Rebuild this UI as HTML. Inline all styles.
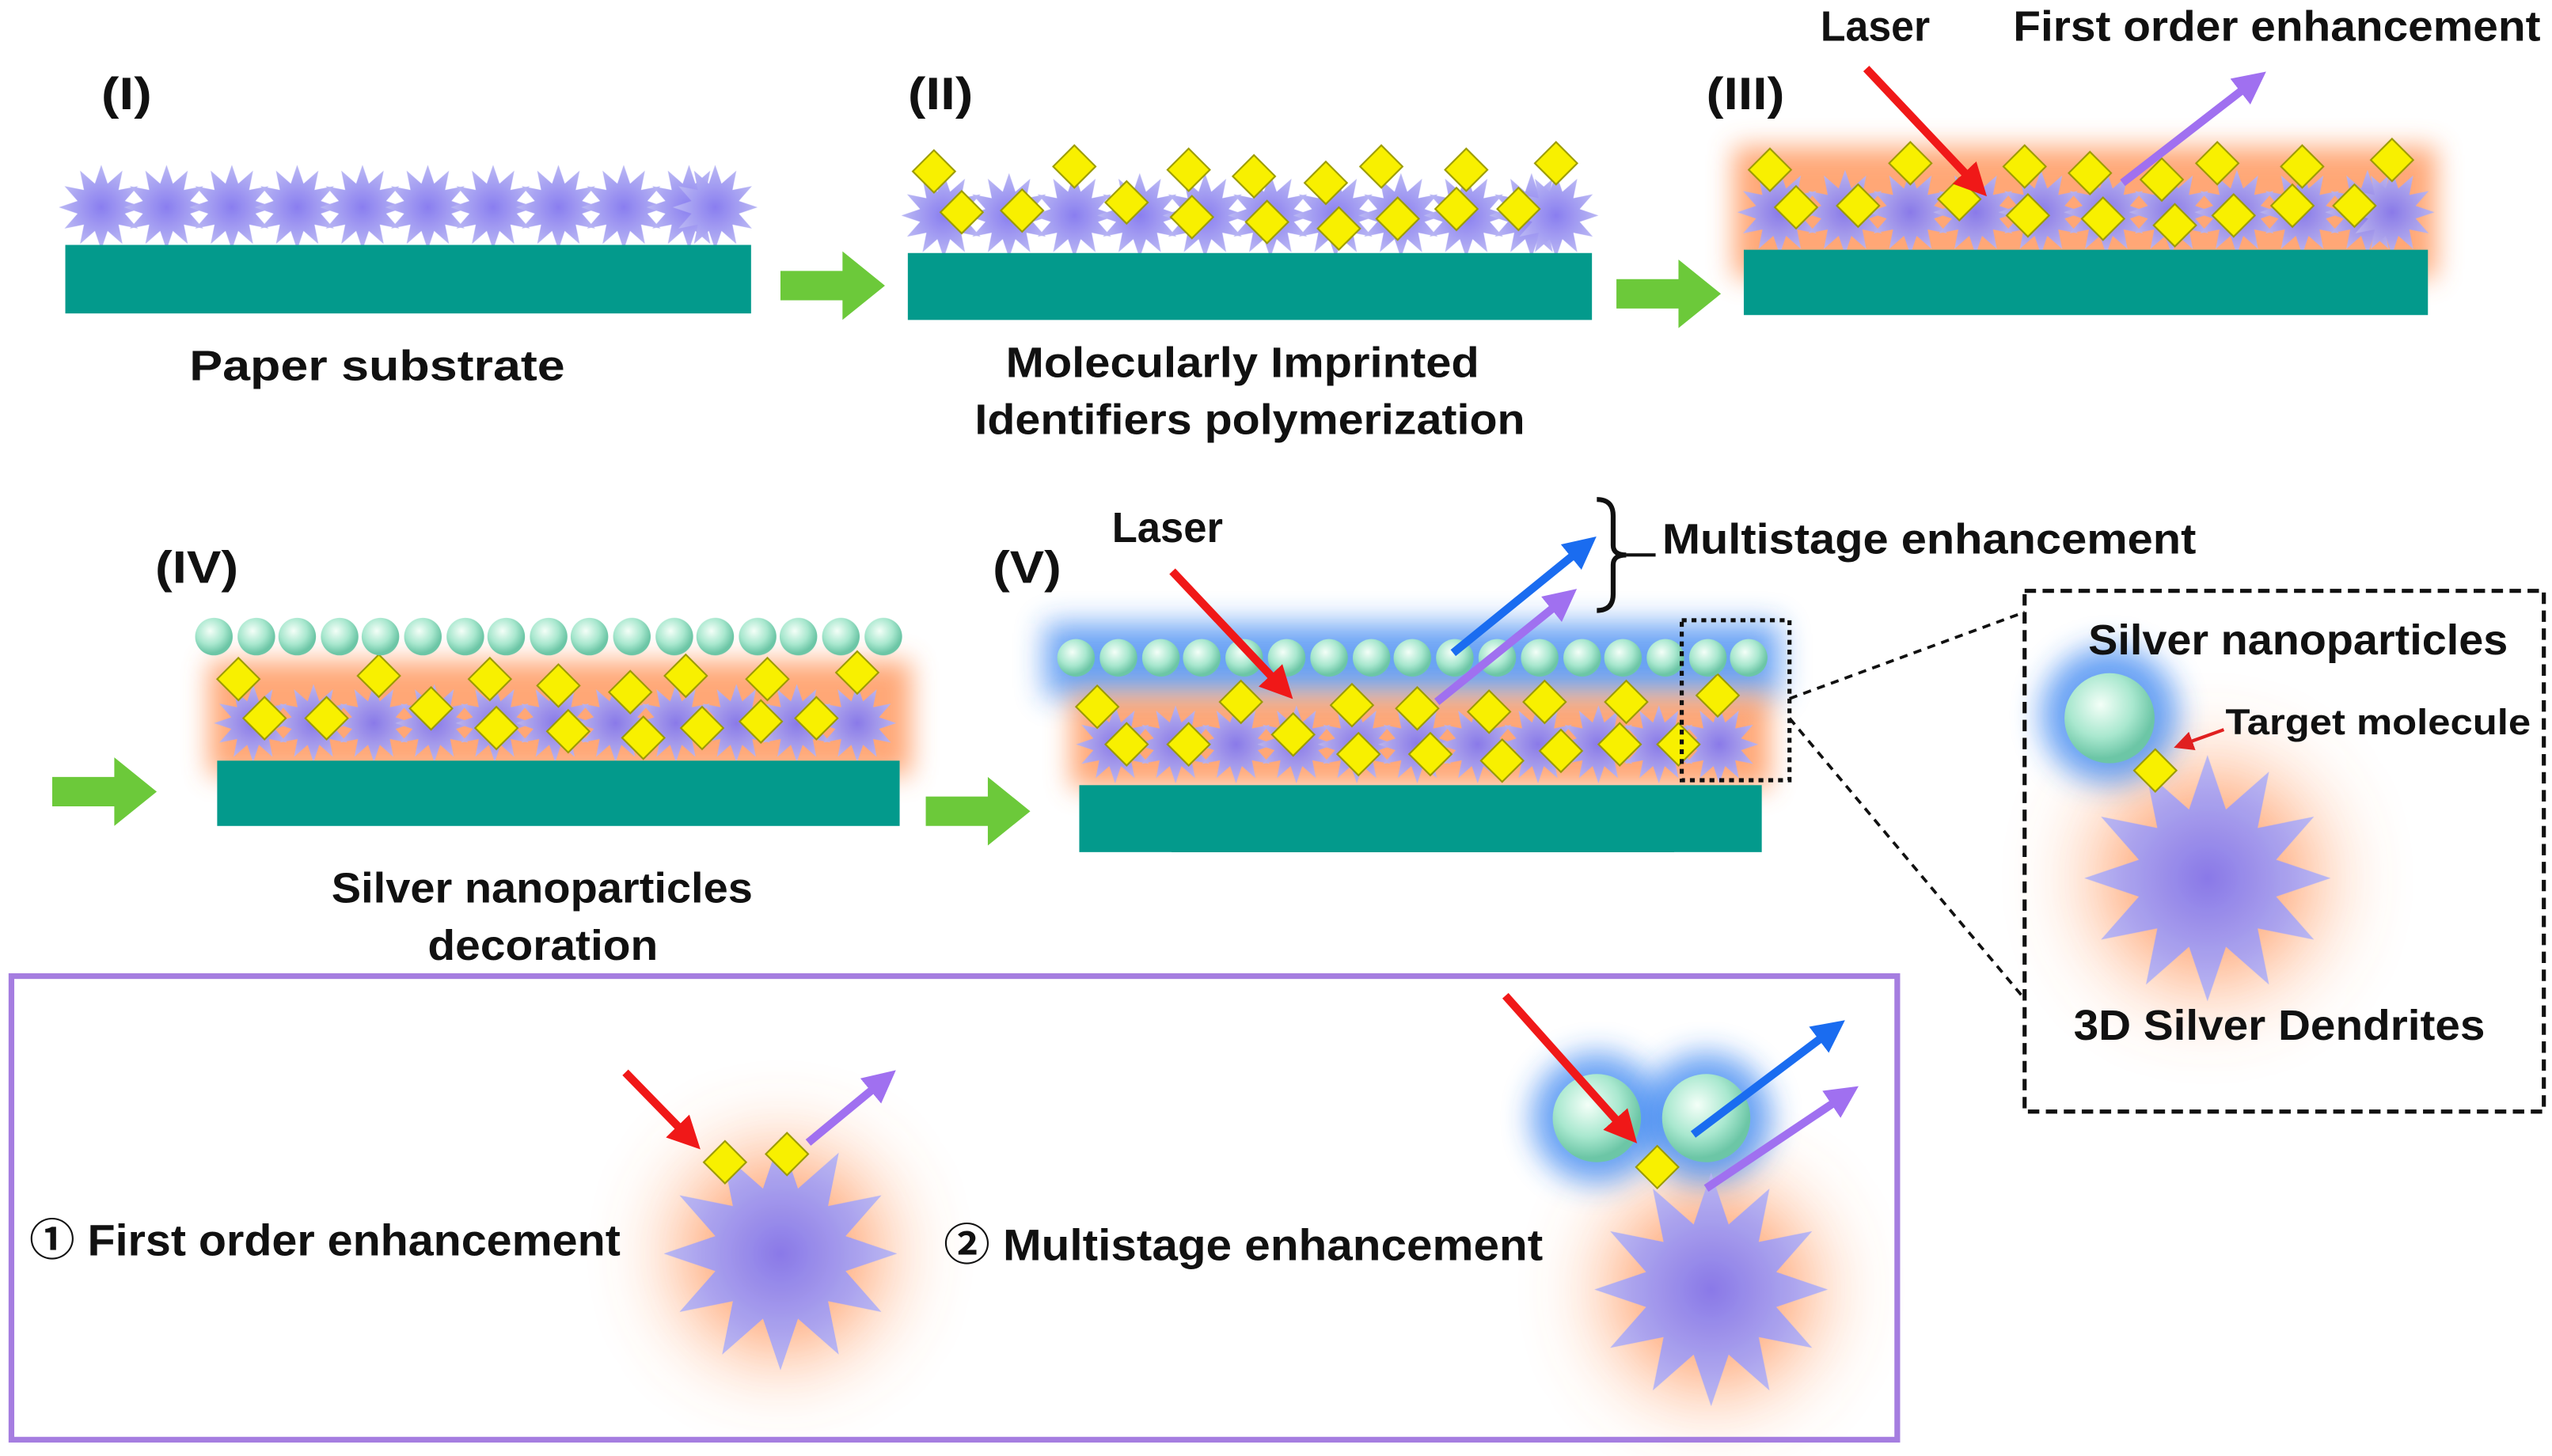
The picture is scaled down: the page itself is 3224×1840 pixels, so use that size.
<!DOCTYPE html>
<html><head><meta charset="utf-8">
<style>
html,body{margin:0;padding:0;background:#fff;}
svg{display:block;}
text{font-family:"Liberation Sans","Noto Sans CJK SC",sans-serif;font-weight:bold;fill:#111;}
</style></head>
<body>
<svg width="3224" height="1840" viewBox="0 0 1563 892" preserveAspectRatio="none" xmlns="http://www.w3.org/2000/svg" xmlns:xlink="http://www.w3.org/1999/xlink">
<defs>
<radialGradient id="gs" cx="50%" cy="50%" r="50%">
<stop offset="0" stop-color="#8478f0"/><stop offset="1" stop-color="#b8b6f4"/></radialGradient>
<radialGradient id="gb" cx="40%" cy="35%" r="60%">
<stop offset="0" stop-color="#f4fff8"/><stop offset="0.6" stop-color="#a9e8cf"/><stop offset="1" stop-color="#6cc6a6"/></radialGradient>
<filter id="fo" x="-50%" y="-50%" width="200%" height="200%"><feGaussianBlur stdDeviation="8"/></filter>
<filter id="fb" x="-50%" y="-50%" width="200%" height="200%"><feGaussianBlur stdDeviation="9"/></filter>
<marker id="mr" markerWidth="4" markerHeight="4" refX="2" refY="2" orient="auto" markerUnits="strokeWidth"><path d="M0,0 L4,2 L0,4 z" fill="#f01818"/></marker>
<marker id="mp" markerWidth="4" markerHeight="4" refX="2" refY="2" orient="auto" markerUnits="strokeWidth"><path d="M0,0 L4,2 L0,4 z" fill="#a070f0"/></marker>
<marker id="mb" markerWidth="4" markerHeight="4" refX="2" refY="2" orient="auto" markerUnits="strokeWidth"><path d="M0,0 L4,2 L0,4 z" fill="#1a6cf0"/></marker>
<marker id="mk" markerWidth="6" markerHeight="6" refX="3" refY="3" orient="auto" markerUnits="strokeWidth"><path d="M0,0 L6,3 L0,6 z" fill="#e02020"/></marker>
<path id="st" fill="url(#gs)" d="M26,0L14.5,3.9L22.5,13L10.6,10.6L13,22.5L3.9,14.5L0,26L-3.9,14.5L-13,22.5L-10.6,10.6L-22.5,13L-14.5,3.9L-26,0L-14.5,-3.9L-22.5,-13L-10.6,-10.6L-13,-22.5L-3.9,-14.5L0,-26L3.9,-14.5L13,-22.5L10.6,-10.6L22.5,-13L14.5,-3.9Z"/>
<path id="so" fill="#ff8a4a" opacity="0.85" filter="url(#fo)" d="M26,0L14.5,3.9L22.5,13L10.6,10.6L13,22.5L3.9,14.5L0,26L-3.9,14.5L-13,22.5L-10.6,10.6L-22.5,13L-14.5,3.9L-26,0L-14.5,-3.9L-22.5,-13L-10.6,-10.6L-13,-22.5L-3.9,-14.5L0,-26L3.9,-14.5L13,-22.5L10.6,-10.6L22.5,-13L14.5,-3.9Z"/>
<path id="dm" d="M0,-13L13,0L0,13L-13,0Z" fill="#f8f000" stroke="#9a9a00" stroke-width="1"/>
<circle id="sp" r="11.5" fill="url(#gb)"/>
</defs>

<!-- glows -->
<rect x="1062" y="90" width="430" height="80" fill="#ff8a4a" opacity="0.75" filter="url(#fo)"/>
<rect x="128" y="405" width="430" height="70" fill="#ff8a4a" opacity="0.75" filter="url(#fo)"/>
<rect x="640" y="382" width="450" height="45" fill="#2a7cf0" opacity="0.7" filter="url(#fb)"/>
<rect x="656" y="425" width="428" height="58" fill="#ff8a4a" opacity="0.75" filter="url(#fo)"/>
<use href="#so" transform="translate(1352,538) scale(3.3)"/>
<use href="#so" transform="translate(478,768) scale(3.1)"/>
<use href="#so" transform="translate(1048,790) scale(3.1)"/>
<circle cx="1292" cy="438" r="42" fill="#2a7cf0" opacity="0.7" filter="url(#fb)"/>
<circle cx="978" cy="685" r="40" fill="#2a7cf0" opacity="0.7" filter="url(#fb)"/>
<circle cx="1045" cy="685" r="40" fill="#2a7cf0" opacity="0.7" filter="url(#fb)"/>

<!-- star rows -->
<g opacity="0.95">
<use href="#st" x="62" y="127"/><use href="#st" x="102" y="127"/><use href="#st" x="142" y="127"/><use href="#st" x="182" y="127"/><use href="#st" x="222" y="127"/><use href="#st" x="262" y="127"/><use href="#st" x="302" y="127"/><use href="#st" x="342" y="127"/><use href="#st" x="382" y="127"/><use href="#st" x="422" y="127"/><use href="#st" x="438" y="127"/>
<use href="#st" x="578" y="132"/><use href="#st" x="618" y="132"/><use href="#st" x="658" y="132"/><use href="#st" x="698" y="132"/><use href="#st" x="738" y="132"/><use href="#st" x="778" y="132"/><use href="#st" x="818" y="132"/><use href="#st" x="858" y="132"/><use href="#st" x="898" y="132"/><use href="#st" x="938" y="132"/><use href="#st" x="953" y="132"/>
<use href="#st" x="1090" y="130"/><use href="#st" x="1130" y="130"/><use href="#st" x="1170" y="130"/><use href="#st" x="1210" y="130"/><use href="#st" x="1250" y="130"/><use href="#st" x="1290" y="130"/><use href="#st" x="1330" y="130"/><use href="#st" x="1370" y="130"/><use href="#st" x="1410" y="130"/><use href="#st" x="1450" y="130"/><use href="#st" x="1465" y="130"/>
<use href="#st" transform="translate(155,443) scale(0.92)"/><use href="#st" transform="translate(192,443) scale(0.92)"/><use href="#st" transform="translate(229,443) scale(0.92)"/><use href="#st" transform="translate(266,443) scale(0.92)"/><use href="#st" transform="translate(303,443) scale(0.92)"/><use href="#st" transform="translate(340,443) scale(0.92)"/><use href="#st" transform="translate(377,443) scale(0.92)"/><use href="#st" transform="translate(414,443) scale(0.92)"/><use href="#st" transform="translate(451,443) scale(0.92)"/><use href="#st" transform="translate(488,443) scale(0.92)"/><use href="#st" transform="translate(525,443) scale(0.92)"/>
<use href="#st" transform="translate(683,456) scale(0.92)"/><use href="#st" transform="translate(720,456) scale(0.92)"/><use href="#st" transform="translate(757,456) scale(0.92)"/><use href="#st" transform="translate(794,456) scale(0.92)"/><use href="#st" transform="translate(831,456) scale(0.92)"/><use href="#st" transform="translate(868,456) scale(0.92)"/><use href="#st" transform="translate(905,456) scale(0.92)"/><use href="#st" transform="translate(942,456) scale(0.92)"/><use href="#st" transform="translate(979,456) scale(0.92)"/><use href="#st" transform="translate(1016,456) scale(0.92)"/><use href="#st" transform="translate(1053,456) scale(0.92)"/>
<use href="#st" transform="translate(1352,538) scale(2.9)"/>
<use href="#st" transform="translate(478,768) scale(2.75)"/>
<use href="#st" transform="translate(1048,790) scale(2.75)"/>
</g>

<!-- bars -->
<rect x="40" y="150" width="420" height="42" fill="#039a8c"/>
<rect x="556" y="155" width="419" height="41" fill="#039a8c"/>
<rect x="1068" y="153" width="419" height="40" fill="#039a8c"/>
<rect x="133" y="466" width="418" height="40" fill="#039a8c"/>
<rect x="661" y="481" width="418" height="41" fill="#039a8c"/>

<!-- diamonds -->
<g>
<use href="#dm" x="572" y="105"/><use href="#dm" x="589" y="130"/><use href="#dm" x="626" y="129"/><use href="#dm" x="658" y="102"/><use href="#dm" x="690" y="124"/><use href="#dm" x="728" y="104"/><use href="#dm" x="730" y="133"/><use href="#dm" x="768" y="108"/><use href="#dm" x="776" y="136"/><use href="#dm" x="812" y="112"/><use href="#dm" x="820" y="140"/><use href="#dm" x="846" y="102"/><use href="#dm" x="856" y="134"/><use href="#dm" x="892" y="128"/><use href="#dm" x="898" y="104"/><use href="#dm" x="930" y="128"/><use href="#dm" x="953" y="100"/>
<use href="#dm" x="1084" y="104"/><use href="#dm" x="1100" y="127"/><use href="#dm" x="1138" y="126"/><use href="#dm" x="1170" y="100"/><use href="#dm" x="1200" y="122"/><use href="#dm" x="1240" y="102"/><use href="#dm" x="1242" y="132"/><use href="#dm" x="1280" y="106"/><use href="#dm" x="1288" y="134"/><use href="#dm" x="1324" y="110"/><use href="#dm" x="1332" y="138"/><use href="#dm" x="1358" y="100"/><use href="#dm" x="1368" y="132"/><use href="#dm" x="1404" y="126"/><use href="#dm" x="1410" y="102"/><use href="#dm" x="1442" y="126"/><use href="#dm" x="1465" y="98"/>
<use href="#dm" x="146" y="416"/><use href="#dm" x="162" y="440"/><use href="#dm" x="200" y="440"/><use href="#dm" x="232" y="414"/><use href="#dm" x="264" y="434"/><use href="#dm" x="300" y="416"/><use href="#dm" x="304" y="446"/><use href="#dm" x="342" y="420"/><use href="#dm" x="348" y="448"/><use href="#dm" x="386" y="424"/><use href="#dm" x="394" y="452"/><use href="#dm" x="420" y="414"/><use href="#dm" x="430" y="446"/><use href="#dm" x="466" y="442"/><use href="#dm" x="470" y="416"/><use href="#dm" x="500" y="440"/><use href="#dm" x="525" y="412"/>
<use href="#dm" x="672" y="433"/><use href="#dm" x="690" y="456"/><use href="#dm" x="728" y="456"/><use href="#dm" x="760" y="430"/><use href="#dm" x="792" y="450"/><use href="#dm" x="828" y="432"/><use href="#dm" x="832" y="462"/><use href="#dm" x="868" y="434"/><use href="#dm" x="876" y="462"/><use href="#dm" x="912" y="436"/><use href="#dm" x="920" y="466"/><use href="#dm" x="946" y="430"/><use href="#dm" x="956" y="460"/><use href="#dm" x="992" y="456"/><use href="#dm" x="996" y="430"/><use href="#dm" x="1028" y="456"/><use href="#dm" x="1052" y="426"/>
<use href="#dm" x="1320" y="472"/><use href="#dm" x="444" y="712"/><use href="#dm" x="482" y="707"/>
</g>

<!-- spheres -->
<g>
<use href="#sp" x="131" y="390"/><use href="#sp" x="157" y="390"/><use href="#sp" x="182" y="390"/><use href="#sp" x="208" y="390"/><use href="#sp" x="233" y="390"/><use href="#sp" x="259" y="390"/><use href="#sp" x="285" y="390"/><use href="#sp" x="310" y="390"/><use href="#sp" x="336" y="390"/><use href="#sp" x="361" y="390"/><use href="#sp" x="387" y="390"/><use href="#sp" x="413" y="390"/><use href="#sp" x="438" y="390"/><use href="#sp" x="464" y="390"/><use href="#sp" x="489" y="390"/><use href="#sp" x="515" y="390"/><use href="#sp" x="541" y="390"/>
<use href="#sp" x="659" y="403"/><use href="#sp" x="685" y="403"/><use href="#sp" x="711" y="403"/><use href="#sp" x="736" y="403"/><use href="#sp" x="762" y="403"/><use href="#sp" x="788" y="403"/><use href="#sp" x="814" y="403"/><use href="#sp" x="840" y="403"/><use href="#sp" x="865" y="403"/><use href="#sp" x="891" y="403"/><use href="#sp" x="917" y="403"/><use href="#sp" x="943" y="403"/><use href="#sp" x="969" y="403"/><use href="#sp" x="994" y="403"/><use href="#sp" x="1020" y="403"/><use href="#sp" x="1046" y="403"/><use href="#sp" x="1071" y="403"/>
<use href="#sp" transform="translate(1292,440) scale(2.4)"/>
<use href="#sp" transform="translate(978,685) scale(2.35)"/>
<use href="#sp" transform="translate(1045,685) scale(2.35)"/>
</g>
<use href="#dm" x="1015" y="715"/>

<!-- green arrows -->
<g fill="#6cc93a">
<path d="M478,166 h38 v-12 l26,21 l-26,21 v-12 h-38z"/>
<path d="M990,171 h38 v-12 l26,21 l-26,21 v-12 h-38z"/>
<path d="M32,476 h38 v-12 l26,21 l-26,21 v-12 h-38z"/>
<path d="M567,488 h38 v-12 l26,21 l-26,21 v-12 h-38z"/>
</g>

<!-- laser arrows -->
<g stroke-width="5" fill="none">
<line x1="1143" y1="42" x2="1210" y2="113" stroke="#f01818" marker-end="url(#mr)"/>
<line x1="1300" y1="112" x2="1380" y2="50" stroke="#a070f0" marker-end="url(#mp)"/>
<line x1="718" y1="350" x2="785" y2="421" stroke="#f01818" marker-end="url(#mr)"/>
<line x1="890" y1="400" x2="970" y2="335" stroke="#1a6cf0" marker-end="url(#mb)"/>
<line x1="880" y1="430" x2="958" y2="367" stroke="#a070f0" marker-end="url(#mp)"/>
<line x1="383" y1="657" x2="422" y2="697" stroke="#f01818" marker-end="url(#mr)"/>
<line x1="495" y1="700" x2="541" y2="662" stroke="#a070f0" marker-end="url(#mp)"/>
<line x1="922" y1="610" x2="996" y2="693" stroke="#f01818" marker-end="url(#mr)"/>
<line x1="1037" y1="695" x2="1122" y2="631" stroke="#1a6cf0" marker-end="url(#mb)"/>
<line x1="1045" y1="728" x2="1130" y2="671" stroke="#a070f0" marker-end="url(#mp)"/>
</g>

<!-- brace -->
<path d="M978,306 q10,0 10,10 v18 q0,6 8,6 q-8,0 -8,6 v18 q0,10 -10,10" fill="none" stroke="#111" stroke-width="3"/>
<line x1="996" y1="340" x2="1014" y2="340" stroke="#111" stroke-width="2"/>

<!-- dotted & dashed -->
<rect x="1030" y="380" width="66" height="98" fill="none" stroke="#111" stroke-width="2.5" stroke-dasharray="3,3"/>
<line x1="1096" y1="428" x2="1240" y2="375" stroke="#111" stroke-width="1.8" stroke-dasharray="5,4"/>
<line x1="1096" y1="440" x2="1240" y2="612" stroke="#111" stroke-width="1.8" stroke-dasharray="5,4"/>
<rect x="1240" y="362" width="318" height="319" fill="none" stroke="#111" stroke-width="2.5" stroke-dasharray="7,4"/>
<line x1="1362" y1="447" x2="1337" y2="456" stroke="#e02020" stroke-width="2" marker-end="url(#mk)"/>

<!-- purple box -->
<rect x="7" y="598" width="1155" height="284" fill="none" stroke="#a57de0" stroke-width="3.5"/>

<!-- labels -->
<g font-size="28">
<text x="62" y="67" textLength="31" lengthAdjust="spacingAndGlyphs">(I)</text>
<text x="556" y="67" textLength="40" lengthAdjust="spacingAndGlyphs">(II)</text>
<text x="1045" y="67" textLength="48" lengthAdjust="spacingAndGlyphs">(III)</text>
<text x="95" y="357" textLength="51" lengthAdjust="spacingAndGlyphs">(IV)</text>
<text x="608" y="357" textLength="42" lengthAdjust="spacingAndGlyphs">(V)</text>
</g>
<g font-size="26" lengthAdjust="spacingAndGlyphs">
<text x="116" y="233" textLength="230" lengthAdjust="spacingAndGlyphs">Paper substrate</text>
<text x="616" y="231" textLength="290" lengthAdjust="spacingAndGlyphs">Molecularly Imprinted</text>
<text x="597" y="266" textLength="337" lengthAdjust="spacingAndGlyphs">Identifiers polymerization</text>
<text x="203" y="553" textLength="258" lengthAdjust="spacingAndGlyphs">Silver nanoparticles</text>
<text x="262" y="588" textLength="141" lengthAdjust="spacingAndGlyphs">decoration</text>
<text x="1115" y="25" textLength="67" lengthAdjust="spacingAndGlyphs">Laser</text>
<text x="1233" y="25" textLength="323" lengthAdjust="spacingAndGlyphs">First order enhancement</text>
<text x="681" y="332" textLength="68" lengthAdjust="spacingAndGlyphs">Laser</text>
<text x="1279" y="401" textLength="257" lengthAdjust="spacingAndGlyphs">Silver nanoparticles</text>
<text x="1270" y="637" textLength="252" lengthAdjust="spacingAndGlyphs">3D Silver Dendrites</text>
<text x="1018" y="339" textLength="327" lengthAdjust="spacingAndGlyphs">Multistage enhancement</text>
</g>
<text x="1363" y="450" font-size="22" textLength="187" lengthAdjust="spacingAndGlyphs">Target molecule</text>
<text x="18" y="769" font-size="27" textLength="362" lengthAdjust="spacingAndGlyphs">① First order enhancement</text>
<text x="578" y="772" font-size="27" textLength="367" lengthAdjust="spacingAndGlyphs">② Multistage enhancement</text>
</svg>
</body></html>
